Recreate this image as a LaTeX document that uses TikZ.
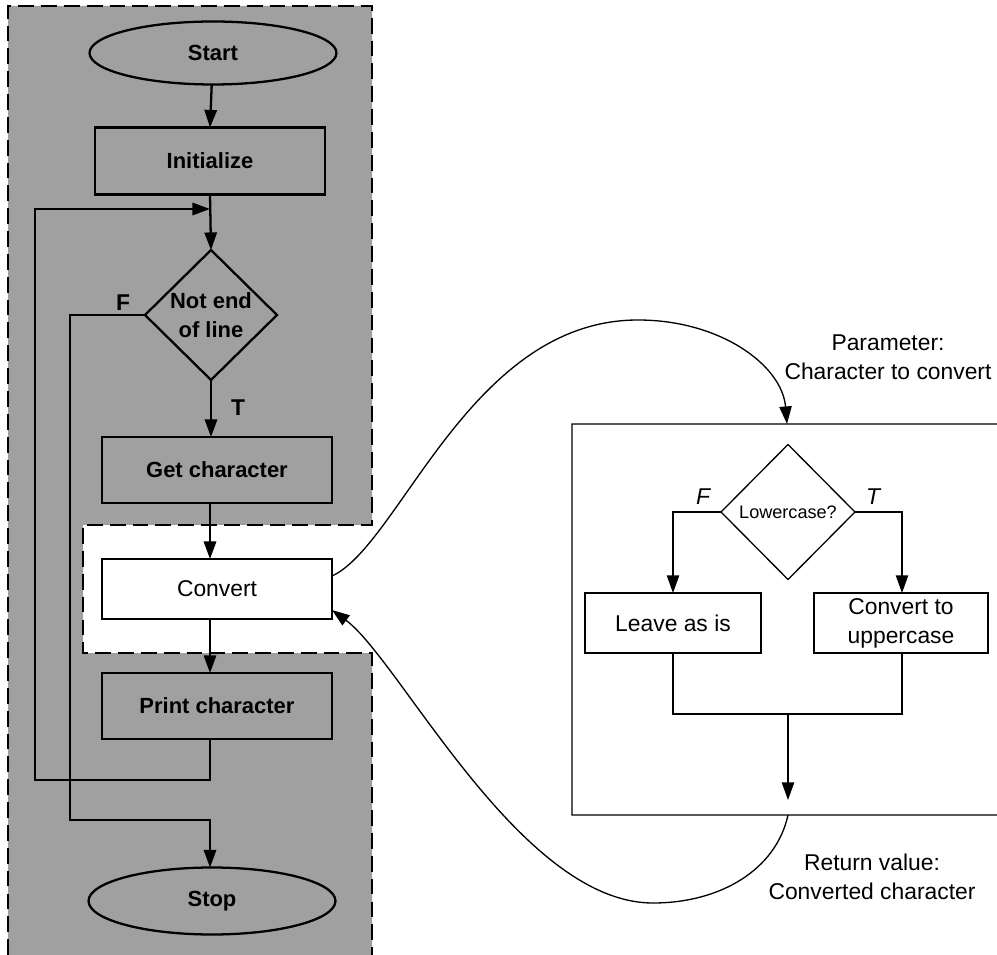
\documentclass[tikz,border=0pt]{standalone}
\usepackage{fontspec}
\setmainfont{Liberation Sans}
\usetikzlibrary{shapes.geometric,arrows.meta}
\definecolor{bggray}{RGB}{160,160,160}
\tikzset{
  every node/.style={inner sep=0pt, outer sep=0pt},
  arr/.style={-{Triangle[length=10pt,width=7pt]}},
  gline/.style={line width=1.3pt, draw=black},
  rline/.style={line width=0.75pt, draw=black},
  gtxt/.style={font=\fontsize{12.5}{16.5}\selectfont\bfseries, align=center},
  rtxt/.style={font=\fontsize{13}{16.5}\selectfont, align=center},
  gbox/.style={rectangle, gline, fill=bggray, gtxt},
  gell/.style={ellipse, gline, fill=bggray, gtxt},
  wbox/.style={rectangle, rline, fill=white, rtxt},
}
\begin{document}
\begin{tikzpicture}[x=0.02cm, y=-0.02cm]
\useasboundingbox (0,0) rectangle (997,955);
% gray column with notch
\fill[bggray] (8,6) -- (372,6) -- (372,525) -- (83,525) -- (83,653) -- (372,653) -- (372,955) -- (8,955) -- cycle;
\draw[line width=1.6pt, dash pattern=on 9pt off 4pt]
  (8,955) -- (8,6) -- (372,6) -- (372,525) -- (83,525) -- (83,653) -- (372,653) -- (372,955);

% left flowchart nodes
\node[gell, minimum width=4.94cm, minimum height=1.26cm] (start) at (213,53) {Start};
\node[gbox, minimum width=4.6cm, minimum height=1.34cm] (init) at (210,161) {Initialize};
\node[diamond, gline, fill=bggray, gtxt, minimum width=2.64cm, minimum height=2.6cm] (dec) at (211,315) {Not end\\of line};
\node[gbox, minimum width=4.6cm, minimum height=1.32cm] (get) at (217,470) {Get character};
\node[wbox, line width=0.9pt, minimum width=4.6cm, minimum height=1.2cm] (conv) at (217,589) {Convert};
\node[gbox, minimum width=4.6cm, minimum height=1.32cm] (print) at (217,706) {Print character};
\node[gell, minimum width=4.94cm, minimum height=1.34cm] (stop) at (212,901) {Stop};

\coordinate (mx) at (210,0);
\coordinate (loopL) at (35,780);
\coordinate (loopT) at (35,209);
\coordinate (fL) at (70,315);
\coordinate (fB) at (70,820);

\draw[gline, arr] (start) -- (mx |- init.north);
\draw[gline, arr] (mx |- init.south) -- (dec.north);
\draw[gline, arr] (dec.south) -- (dec.south |- get.north);
\draw[gline, arr] (mx |- get.south) -- (mx |- conv.north);
\draw[gline, arr] (mx |- conv.south) -- (mx |- print.north);
\draw[gline, arr] (mx |- print.south) -- (mx |- loopL) -- (loopL) -- (loopT) -- (mx |- loopT);
\draw[gline, arr] (dec.west) -- (fL) -- (fB) -- (mx |- fB) -- (mx |- stop.north);
\node[font=\fontsize{13}{16}\selectfont\bfseries] (lf) at (123,303) {F};
\node[font=\fontsize{13}{16}\selectfont\bfseries] (lt) at (238,408) {T};

% right subroutine
\node[minimum width=8.5cm, minimum height=7.82cm] (sub) at (784.5,619.5) {};
\draw[rline] (1005,424) -- (sub.north west) -- (sub.south west) -- (1005,815);
\coordinate (subtop) at (787,424);
\coordinate (subbot) at (788,815);

\node[diamond, rline, fill=white, font=\fontsize{10.3}{12}\selectfont, minimum width=2.68cm, minimum height=2.7cm] (low) at (788,512) {Lowercase?};
\node[wbox, minimum width=3.52cm, minimum height=1.2cm] (leave) at (673,623) {Leave as is};
\node[wbox, minimum width=3.48cm, minimum height=1.2cm] (upper) at (901,623) {Convert to\\uppercase};
\coordinate (mL) at (673,714);
\coordinate (mR) at (902,714);
\coordinate (mM) at (788,714);
\coordinate (mEnd) at (788,800);

\draw[rline, arr] (low.west) -| (leave.north);
\draw[rline, arr] (low.east) -| (upper.north -| mR);
\draw[rline] (leave.south) -- (mL) -- (mR) -- (upper.south -| mR);
\draw[rline, arr] (mM) -- (mEnd);
\node[font=\fontsize{13}{16}\selectfont\itshape] (rf) at (703,497) {F};
\node[font=\fontsize{13}{16}\selectfont\itshape] (rt) at (873,497) {T};

% call / return curves
\coordinate (cOut) at (332,576);
\coordinate (cIn) at (332,610);
\draw[rline, arr] (cOut) .. controls (400,545) and (470,320) .. (638,320)
  .. controls (720,320) and (782,365) .. (subtop);
\draw[rline, arr] (subbot) .. controls (776,870) and (720,903) .. (653,903)
  .. controls (520,903) and (400,660) .. (cIn);

\node[rtxt] (param) at (888,357) {Parameter:\\Character to convert};
\node[rtxt] (ret) at (872,877) {Return value:\\Converted character};
\end{tikzpicture}
\end{document}
